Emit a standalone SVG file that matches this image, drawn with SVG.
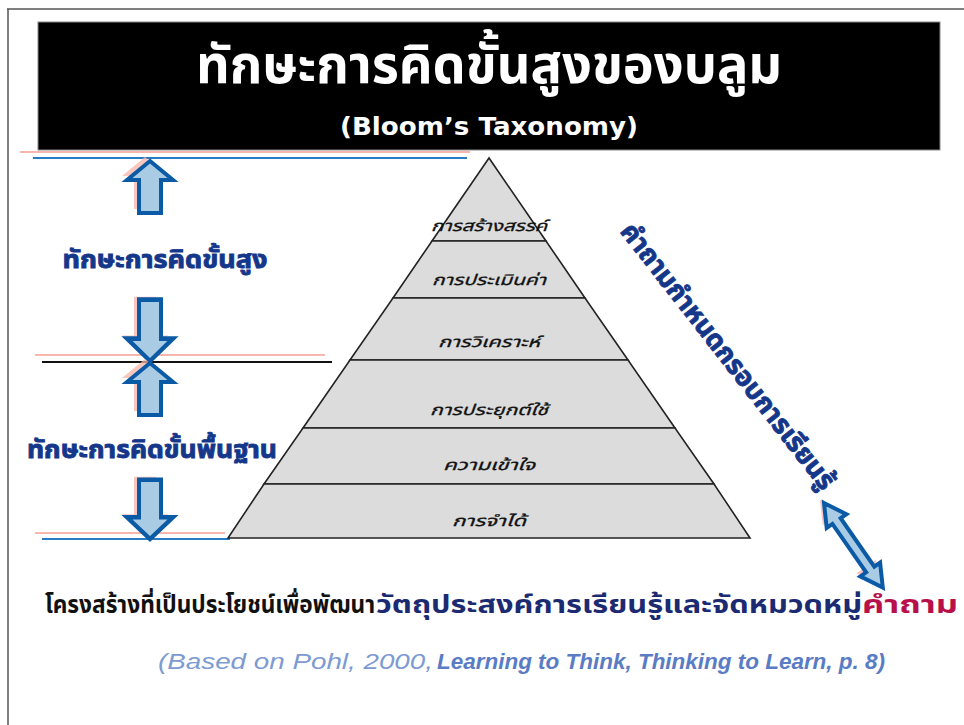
<svg xmlns="http://www.w3.org/2000/svg" width="964" height="725" viewBox="0 0 964 725">
<style>
.thai{font-family:"Noto Sans Thai","Noto Sans","DejaVu Sans",sans-serif;}
.lvl{font-family:"Noto Sans Thai","Noto Sans","DejaVu Sans",sans-serif;font-size:15px;font-style:italic;fill:#111;text-anchor:middle;stroke:#111;stroke-width:0.3;}
.side{font-family:"Noto Sans Thai","Noto Sans","DejaVu Sans",sans-serif;font-weight:bold;fill:#15378a;stroke:#15378a;stroke-width:0.9;}
.arw{fill:#a9cce4;stroke:#0a5aa6;stroke-width:4;stroke-linejoin:miter;}
.shd{fill:#f8b4a8;opacity:0.75;}
.pink{stroke:#f6a59a;stroke-width:2;opacity:0.8;}
.tier{fill:#dcdcdc;stroke:#222;stroke-width:1.6;}
.cit{font-family:"Liberation Sans",Arial,sans-serif;font-style:italic;font-size:22px;}
</style>
<defs>
<polygon id="upArrow" points="0,0 23,19 11,19 11,52 -11,52 -11,19 -23,19"/>
</defs>
<rect width="964" height="725" fill="#fff"/>
<g id="frame" stroke="#555" stroke-width="1.5" fill="none">
<line x1="7" y1="9" x2="964" y2="9"/>
<line x1="8" y1="9" x2="8" y2="725"/>
</g>
<g id="title">
<rect x="38" y="22" width="902" height="128" fill="#000" stroke="#888" stroke-width="1"/>
<text x="489" y="83" class="thai" font-size="54" font-weight="bold" fill="#fff" text-anchor="middle" textLength="586" lengthAdjust="spacingAndGlyphs">ทักษะการคิดขั้นสูงของบลูม</text>
<text x="489" y="135" font-family="DejaVu Sans,sans-serif" font-size="24" font-weight="bold" fill="#fff" text-anchor="middle" textLength="298" lengthAdjust="spacingAndGlyphs">(Bloom’s Taxonomy)</text>
</g>
<g id="guide-lines">
<line x1="20" y1="152" x2="470" y2="152" class="pink"/>
<line x1="33" y1="158" x2="467" y2="158" stroke="#2b7bc4" stroke-width="2"/>
<line x1="35" y1="355" x2="325" y2="355" class="pink"/>
<line x1="42" y1="362" x2="332" y2="362" stroke="#111" stroke-width="1.8"/>
<line x1="35" y1="533" x2="225" y2="533" class="pink"/>
<line x1="42" y1="539" x2="230" y2="539" stroke="#2b7bc4" stroke-width="2"/>
</g>
<g id="arrow-up-high">
<use href="#upArrow" transform="translate(145,157)" class="shd"/>
<use href="#upArrow" transform="translate(150,161)" class="arw"/>
</g>
<g id="label-high">
<text x="165" y="268" class="side" font-size="25" text-anchor="middle" textLength="205" lengthAdjust="spacingAndGlyphs">ทักษะการคิดขั้นสูง</text>
</g>
<g id="arrow-down-high">
<use href="#upArrow" transform="translate(145,358) scale(1,-1.18)" class="shd"/>
<use href="#upArrow" transform="translate(150,361) scale(1,-1.18)" class="arw"/>
</g>
<g id="arrow-up-basic">
<use href="#upArrow" transform="translate(145,359)" class="shd"/>
<use href="#upArrow" transform="translate(150,363)" class="arw"/>
</g>
<g id="label-basic">
<text x="152" y="458" class="side" font-size="25" text-anchor="middle" textLength="250" lengthAdjust="spacingAndGlyphs">ทักษะการคิดขั้นพื้นฐาน</text>
</g>
<g id="arrow-down-basic">
<use href="#upArrow" transform="translate(145,536) scale(1,-1.14)" class="shd"/>
<use href="#upArrow" transform="translate(150,539) scale(1,-1.14)" class="arw"/>
</g>
<g id="pyramid">
<polygon class="tier" points="489,158 432,241 546,241"/>
<polygon class="tier" points="432,241 546,241 585,298 393,298"/>
<polygon class="tier" points="393,298 585,298 628,360 350,360"/>
<polygon class="tier" points="350,360 628,360 675,428 303,428"/>
<polygon class="tier" points="303,428 675,428 714,484 264,484"/>
<polygon class="tier" points="264,484 714,484 750,538 228,538"/>
<text x="489" y="231" class="lvl" textLength="116" lengthAdjust="spacingAndGlyphs">การสร้างสรรค์</text>
<text x="489" y="285" class="lvl" textLength="114" lengthAdjust="spacingAndGlyphs">การประเมินค่า</text>
<text x="489" y="347" class="lvl" textLength="102" lengthAdjust="spacingAndGlyphs">การวิเคราะห์</text>
<text x="489" y="415" class="lvl" textLength="118" lengthAdjust="spacingAndGlyphs">การประยุกต์ใช้</text>
<text x="489" y="470" class="lvl" textLength="92" lengthAdjust="spacingAndGlyphs">ความเข้าใจ</text>
<text x="489" y="526" class="lvl" textLength="74" lengthAdjust="spacingAndGlyphs">การจำได้</text>
</g>
<g id="diagonal-label">
<text transform="translate(728,356) rotate(52)" x="0" y="9" class="side" font-size="27" text-anchor="middle" textLength="330" lengthAdjust="spacingAndGlyphs">คำถามกำหนดกรอบการเรียนรู้</text>
</g>
<g id="double-arrow">
<polygon transform="translate(820,500) rotate(55.2)" points="0,0 22,-12 22,-5 81,-5 81,-12 103,0 81,12 81,5 22,5 22,12" class="shd"/>
<polygon transform="translate(824,503) rotate(55.2)" points="0,0 22,-12 22,-5 81,-5 81,-12 103,0 81,12 81,5 22,5 22,12" class="arw" stroke-width="3.5"/>
</g>
<g id="summary">
<text x="45" y="613" class="thai" font-size="24" font-weight="bold" fill="#111" textLength="330" lengthAdjust="spacingAndGlyphs">โครงสร้างที่เป็นประโยชน์เพื่อพัฒนา</text>
<text x="376" y="613" class="thai" font-size="24" font-weight="bold" fill="#1c2a72" textLength="486" lengthAdjust="spacingAndGlyphs">วัตถุประสงค์การเรียนรู้และจัดหมวดหมู่</text>
<text x="862" y="613" class="thai" font-size="24" font-weight="bold" fill="#b8104a" textLength="96" lengthAdjust="spacingAndGlyphs">คำถาม</text>
</g>
<g id="citation">
<text x="158" y="669" class="cit" fill="#7d9bd2" textLength="275" lengthAdjust="spacingAndGlyphs">(Based on Pohl, 2000,</text>
<text x="437" y="669" class="cit" font-weight="bold" fill="#5a7cc4" textLength="448" lengthAdjust="spacingAndGlyphs">Learning to Think, Thinking to Learn, p. 8)</text>
</g>
</svg>
